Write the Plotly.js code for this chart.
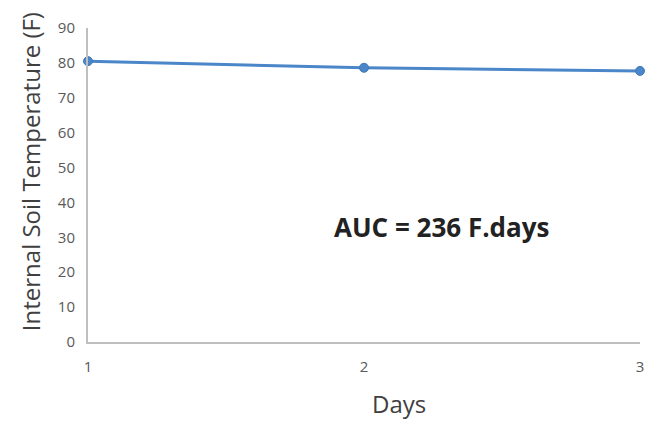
<!DOCTYPE html>
<html>
<head>
<meta charset="utf-8">
<script src="https://cdn.plot.ly/plotly-3.0.1.min.js"></script>
<style>html,body{margin:0;padding:0;background:#fff;}#chart{width:658px;height:423px;}</style>
</head>
<body>
<div id="chart"></div>
<script>
const days = [1, 2, 3];
const temperature = [80.5, 78.6, 77.7];
const yTicks = [0, 10, 20, 30, 40, 50, 60, 70, 80, 90];
const xTicks = [1, 2, 3];
const annotationText = "AUC = 236 F.days";
const xTitle = "Days";
const yTitle = "Internal Soil Temperature (F)";

const FONT = '"Open Sans", "DejaVu Sans", sans-serif';

const trace = {
  x: days,
  y: temperature,
  type: 'scatter',
  mode: 'lines+markers',
  line: {color: '#4a86c8', width: 3},
  marker: {color: '#4a86c8', size: 9, line: {color: '#3f78b8', width: 1}},
  cliponaxis: false
};

const layout = {
  width: 658,
  height: 423,
  margin: {l: 88, r: 18, t: 28, b: 81},
  paper_bgcolor: '#ffffff',
  plot_bgcolor: '#ffffff',
  showlegend: false,
  font: {family: FONT, color: '#595959'},
  xaxis: {
    range: [1, 3],
    tickvals: xTicks,
    ticktext: xTicks.map(String),
    showgrid: false,
    zeroline: false,
    showline: true,
    linecolor: '#bfbfbf',
    linewidth: 2,
    ticks: '',
    ticklabelstandoff: 10,
    tickfont: {size: 15, color: '#595959'}
  },
  yaxis: {
    range: [0, 90],
    tickvals: yTicks,
    showgrid: false,
    zeroline: false,
    showline: true,
    linecolor: '#bfbfbf',
    linewidth: 2,
    ticks: '',
    ticklabelstandoff: 8,
    tickfont: {size: 15, color: '#595959'}
  },
  annotations: [
    {
      x: 0.640, y: 0.366, xref: 'paper', yref: 'paper',
      xanchor: 'center', yanchor: 'middle',
      text: '<b>' + annotationText + '</b>',
      showarrow: false,
      font: {size: 26, color: '#222222', family: FONT}
    },
    {
      x: -0.105, y: 0.541, xref: 'paper', yref: 'paper',
      xanchor: 'center', yanchor: 'middle', textangle: -90,
      text: yTitle,
      showarrow: false,
      font: {size: 24, color: '#404040', family: FONT}
    },
    {
      x: 0.563, y: -0.197, xref: 'paper', yref: 'paper',
      xanchor: 'center', yanchor: 'middle',
      text: xTitle,
      showarrow: false,
      font: {size: 24, color: '#404040', family: FONT}
    }
  ]
};

Plotly.newPlot('chart', [trace], layout, {displayModeBar: false, staticPlot: true});
</script>
</body>
</html>
